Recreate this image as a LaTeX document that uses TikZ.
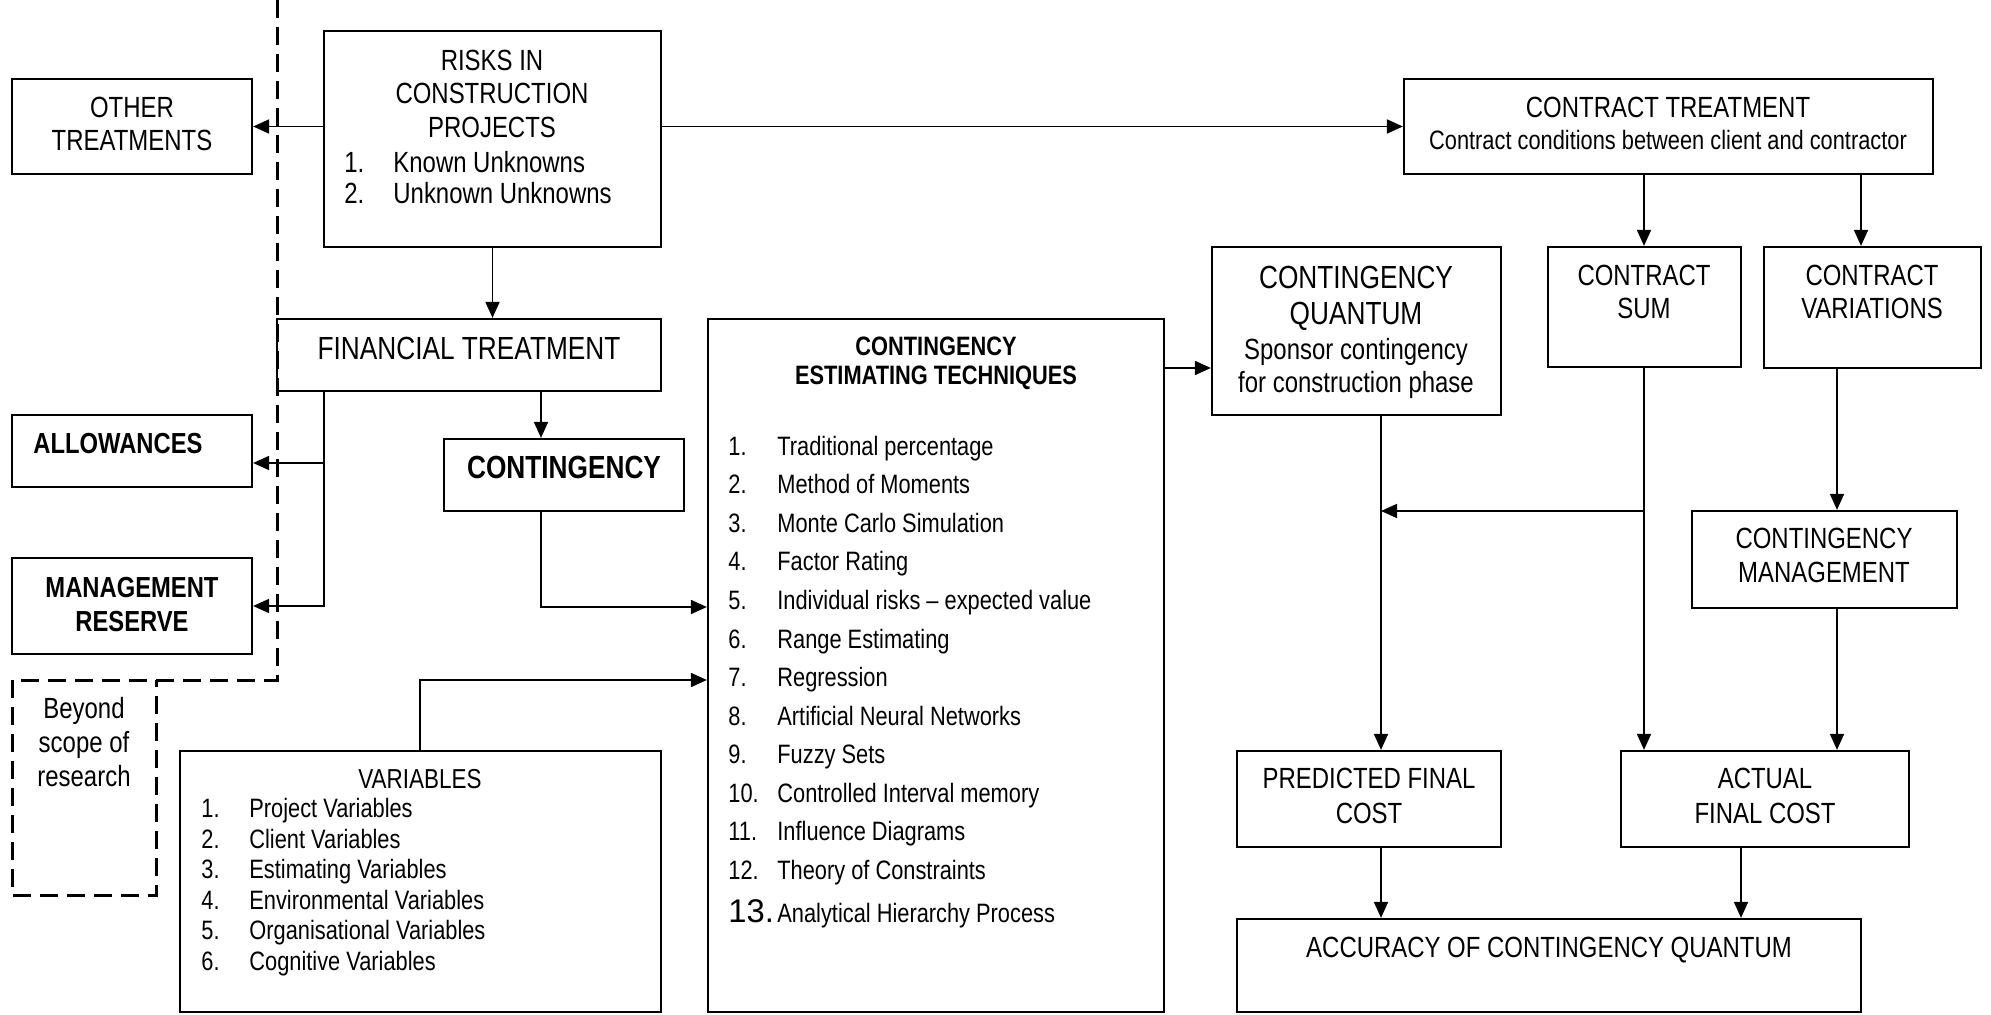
\documentclass[tikz,border=0pt]{standalone}
\usepackage{fontspec}
\newfontfamily\nar[FakeStretch=0.82]{Liberation Sans}
\newfontfamily\wide{Liberation Sans}
\usetikzlibrary{arrows.meta,fit}
\begin{document}
\begin{tikzpicture}[x=0.5pt,y=-0.5pt,
  box/.style={draw, line width=1.1pt, inner sep=0pt},
  arr/.style={line width=0.9pt, -{Triangle[length=8pt,width=7pt]}},
  scopeline/.style={line width=1.5pt, dash pattern=on 9pt off 4.5pt},
  tx/.style={inner sep=0pt, anchor=base, font=\nar\fontsize{14.6}{17}\selectfont},
  tl/.style={tx, anchor=base west},
  big/.style={tx, font=\nar\fontsize{16}{19}\selectfont},
  bld/.style={tx, font=\nar\bfseries\fontsize{14.5}{17}\selectfont},
  sm/.style={tx, font=\nar\fontsize{13.3}{16}\selectfont},
  sml/.style={sm, anchor=base west},
]
\useasboundingbox (0,0) rectangle (1991,1015);

% ---------- boxes ----------
\node[box, fit={(12,79) (252,174)}] (other) {};
\node[box, fit={(324,31) (661,247)}] (risks) {};
\node[box, fit={(277,319) (661,391)}] (fin) {};
\node[box, fit={(12,415) (252,487)}] (allow) {};
\node[box, fit={(12,558) (252,654)}] (mres) {};
\node[box, fit={(444,439) (684,511)}] (cont) {};
\node[box, fit={(180,751) (661,1012)}] (var) {};
\node[box, fit={(708,319) (1164,1012)}] (cet) {};
\node[box, fit={(1404,79) (1933,174)}] (ct) {};
\node[box, fit={(1212,247) (1501,415)}] (quant) {};
\node[box, fit={(1548,247) (1741,367)}] (sum) {};
\node[box, fit={(1764,247) (1981,368)}] (cvar) {};
\node[box, fit={(1692,511) (1957,608)}] (mgmt) {};
\node[box, fit={(1237,751) (1501,847)}] (pred) {};
\node[box, fit={(1621,751) (1909,847)}] (actual) {};
\node[box, fit={(1237,919) (1861,1012)}] (acc) {};

% ---------- scope boundary ----------
\draw[scopeline] (277,0) -- (277,680) -- (12,680) -- (12,895) -- (156,895) -- (156,680);

% ---------- texts ----------
\node[tx] (to1) at (132,117.5) {OTHER};
\node[tx] (to2) at (132,150.5) {TREATMENTS};

\node[tx] (tr1) at (492,70.5) {RISKS IN};
\node[tx] (tr2) at (492,103.5) {CONSTRUCTION};
\node[tx] (tr3) at (492,137.5) {PROJECTS};
\node[tl] (tr4n) at (344,172.5) {1.};
\node[tl] (tr4) at (393,172.5) {Known Unknowns};
\node[tl] (tr5n) at (344,203.5) {2.};
\node[tl] (tr5) at (393,203.5) {Unknown Unknowns};

\node[big] (tfin) at (469,359.5) {FINANCIAL TREATMENT};
\node[bld, anchor=base west] (tall) at (33,453.5) {ALLOWANCES};
\node[bld] (tm1) at (132,597.5) {MANAGEMENT};
\node[bld] (tm2) at (132,631.5) {RESERVE};
\node[bld, font=\nar\bfseries\fontsize{16}{19}\selectfont] (tcont) at (564,478.5) {CONTINGENCY};

\node[tx] (tb1) at (84,718) {Beyond};
\node[tx] (tb2) at (84,752) {scope of};
\node[tx] (tb3) at (84,786) {research};

\node[tx, font=\nar\fontsize{13.7}{16}\selectfont] (tvar) at (420,788) {VARIABLES};
\foreach \t [count=\i] in {Project Variables, Client Variables, Estimating Variables,
    Environmental Variables, Organisational Variables, Cognitive Variables}{
  \node[sml] (tvn\i) at (201,{817.5+(\i-1)*30.6}) {\i.};
  \node[sml] (tv\i) at (249,{817.5+(\i-1)*30.6}) {\t};
}

\node[sm, font=\nar\bfseries\fontsize{13.3}{16}\selectfont] (tc1) at (936,355.5) {CONTINGENCY};
\node[sm, font=\nar\bfseries\fontsize{13.3}{16}\selectfont] (tc2) at (936,384.5) {ESTIMATING TECHNIQUES};
\foreach \t [count=\i] in {Traditional percentage, Method of Moments, Monte Carlo Simulation,
    Factor Rating, Individual risks – expected value, Range Estimating, Regression,
    Artificial Neural Networks, Fuzzy Sets, Controlled Interval memory,
    Influence Diagrams, Theory of Constraints}{
  \node[sml] (tcn\i) at (728,{455.5+(\i-1)*38.5}) {\i.};
  \node[sml] (tc\i) at (777,{455.5+(\i-1)*38.5}) {\t};
}
\node[inner sep=0pt, anchor=base west, font=\wide\fontsize{16.4}{19}\selectfont] (tcn13) at (728,922.5) {13.};
\node[sml] (tc13) at (777,922.5) {Analytical Hierarchy Process};

\node[tx] (tct1) at (1668,117.5) {CONTRACT TREATMENT};
\node[sm] (tct2) at (1668,149.5) {Contract conditions between client and contractor};

\node[big] (tq1) at (1356,288.5) {CONTINGENCY};
\node[big] (tq2) at (1356,324.5) {QUANTUM};
\node[tx] (tq3) at (1356,359.5) {Sponsor contingency};
\node[tx] (tq4) at (1356,392.5) {for construction phase};

\node[tx] (ts1) at (1644,285.5) {CONTRACT};
\node[tx] (ts2) at (1644,318.5) {SUM};
\node[tx] (tv1x) at (1872,285.5) {CONTRACT};
\node[tx] (tv2x) at (1872,318.5) {VARIATIONS};

\node[tx] (tg1) at (1824,548.5) {CONTINGENCY};
\node[tx] (tg2) at (1824,582.5) {MANAGEMENT};

\node[tx] (tp1) at (1369,788.5) {PREDICTED FINAL};
\node[tx] (tp2) at (1369,823.5) {COST};
\node[tx] (ta1) at (1765,788.5) {ACTUAL};
\node[tx] (ta2) at (1765,823.5) {FINAL COST};

\node[tx] (tacc) at (1549,957.5) {ACCURACY OF CONTINGENCY QUANTUM};

% ---------- connector coordinates ----------
\coordinate (xb) at (324,0);
\coordinate (xc) at (541,0);
\coordinate (xv) at (420,0);
\coordinate (xq) at (1381,0);
\coordinate (xs) at (1644,0);
\coordinate (xcv) at (1861,0);
\coordinate (xm) at (1837,0);
\coordinate (xa) at (1741,0);
\coordinate (yal) at (0,463);
\coordinate (ycon) at (0,607);
\coordinate (yvar) at (0,680);
\coordinate (yq) at (0,368);
\coordinate (ybr) at (0,511);

% ---------- connectors ----------
\draw[arr] (risks.west |- other.east) -- (other.east);
\draw[arr] (risks.east |- ct.west) -- (ct.west);
\draw[arr] (risks.south) -- (risks.south |- fin.north);

\draw[arr] (fin.south -| xb) |- (mres.east);
\draw[arr] (xb |- yal) -- (allow.east |- yal);
\draw[arr] (fin.south -| xc) -- (cont.north -| xc);
\draw[arr] (cont.south -| xc) |- (cet.west |- ycon);
\draw[arr] (var.north -| xv) |- (cet.west |- yvar);

\draw[arr] (cet.east |- yq) -- (quant.west |- yq);
\draw[arr] (ct.south -| xs) -- (sum.north -| xs);
\draw[arr] (ct.south -| xcv) -- (cvar.north -| xcv);
\draw[arr] (sum.south -| xs) -- (actual.north -| xs);
\draw[arr] (xs |- ybr) -- (xq |- ybr);
\draw[arr] (quant.south -| xq) -- (pred.north -| xq);
\draw[arr] (cvar.south -| xm) -- (mgmt.north -| xm);
\draw[arr] (mgmt.south -| xm) -- (actual.north -| xm);
\draw[arr] (pred.south -| xq) -- (acc.north -| xq);
\draw[arr] (actual.south -| xa) -- (acc.north -| xa);
\end{tikzpicture}
\end{document}
